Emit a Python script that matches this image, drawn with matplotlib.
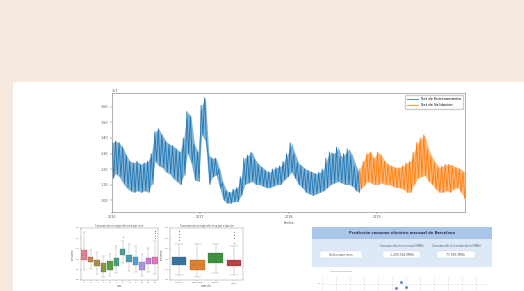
import numpy as np
import pandas as pd
import matplotlib
matplotlib.use("Agg")
import matplotlib.pyplot as plt
from matplotlib.patches import Rectangle
import seaborn as sns

# --- main series (upper / lower envelope of the daily values) ---
train_hi = [1.37, 1.38, 1.37, 1.34, 1.29, 1.25, 1.24, 1.25, 1.23, 1.24,
            1.25, 1.30, 1.44, 1.46, 1.42, 1.38, 1.36, 1.35, 1.33, 1.31,
            1.40, 1.57, 1.54, 1.36, 1.31, 1.61, 1.66, 1.29, 1.27, 1.27,
            1.20, 1.11, 1.06, 1.05, 1.07, 1.08, 1.15, 1.27, 1.29, 1.31,
            1.26, 1.23, 1.21, 1.19, 1.18, 1.20, 1.21, 1.22, 1.25, 1.30,
            1.37, 1.30, 1.24, 1.22, 1.20, 1.19, 1.18, 1.17, 1.18, 1.20,
            1.27, 1.31, 1.30, 1.34, 1.28, 1.30, 1.33, 1.29, 1.22, 1.18]
train_lo = [1.14, 1.17, 1.15, 1.11, 1.08, 1.06, 1.05, 1.06, 1.05, 1.06,
            1.05, 1.10, 1.25, 1.22, 1.21, 1.18, 1.17, 1.14, 1.12, 1.10,
            1.16, 1.30, 1.24, 1.13, 1.12, 1.42, 1.38, 1.10, 1.15, 1.16,
            1.08, 1.00, 0.98, 0.98, 0.99, 0.99, 1.03, 1.10, 1.11, 1.12,
            1.10, 1.10, 1.09, 1.08, 1.08, 1.09, 1.10, 1.10, 1.13, 1.15,
            1.18, 1.14, 1.10, 1.08, 1.05, 1.04, 1.03, 1.04, 1.05, 1.06,
            1.08, 1.10, 1.11, 1.12, 1.11, 1.10, 1.10, 1.09, 1.06, 1.05]
val_hi = [1.20, 1.25, 1.30, 1.31, 1.27, 1.31, 1.29, 1.25, 1.23, 1.22,
          1.21, 1.21, 1.22, 1.24, 1.25, 1.31, 1.37, 1.40, 1.42, 1.33,
          1.28, 1.24, 1.21, 1.22, 1.23, 1.23, 1.22, 1.21, 1.20, 1.18]
val_lo = [1.07, 1.09, 1.12, 1.11, 1.10, 1.10, 1.11, 1.10, 1.10, 1.09,
          1.08, 1.08, 1.07, 1.05, 1.05, 1.10, 1.14, 1.15, 1.16, 1.12,
          1.10, 1.07, 1.05, 1.05, 1.06, 1.05, 1.07, 1.08, 1.05, 1.01]
year_ticks = ["2016", "2017", "2018", "2019"]

# --- box plot by month ---
month_q1 = [1.19, 1.15, 1.06, 0.96, 1.00, 1.06, 1.28, 1.15, 1.09, 0.99, 1.10, 1.10]
month_med = [1.28, 1.20, 1.12, 1.03, 1.08, 1.12, 1.35, 1.22, 1.18, 1.06, 1.18, 1.17]
month_q3 = [1.38, 1.24, 1.19, 1.12, 1.17, 1.22, 1.40, 1.28, 1.24, 1.15, 1.22, 1.24]
month_lo = [0.99, 1.02, 0.92, 0.86, 0.88, 0.93, 1.12, 0.98, 0.95, 0.88, 0.96, 0.92]
month_hi = [1.72, 1.38, 1.33, 1.26, 1.30, 1.45, 1.55, 1.50, 1.45, 1.30, 1.42, 1.55]
month_fliers = [[], [], [], [], [], [], [1.62], [], [], [], [], [1.60, 1.65, 1.70, 1.74]]

# --- box plot by season ---
season_q1 = [1.09, 0.99, 1.12, 1.06]
season_med = [1.17, 1.08, 1.22, 1.12]
season_q3 = [1.25, 1.19, 1.31, 1.19]
season_lo = [0.90, 0.86, 0.93, 0.90]
season_hi = [1.50, 1.50, 1.50, 1.45]
season_fliers = [[1.56, 1.62, 1.68, 1.74], [], [], [1.52, 1.60, 1.66, 1.72]]
season_colors = ["#3274a1", "#e1812c", "#3a923a", "#c03d3e"]

W, H = 524, 291
fig = plt.figure(figsize=(W / 100, H / 100), dpi=100, facecolor="#f6e9e0")


def fx(px):
    return px / W


def fy(py):
    return 1 - py / H


# white card behind everything
fig.patches.append(Rectangle((fx(13), 0), 1 - fx(13), fy(82), transform=fig.transFigure,
                             facecolor="white", edgecolor="none", zorder=-5))

# main time series
ax = fig.add_axes([fx(112), fy(212), fx(465 - 112), (212 - 93) / H])
d_train = pd.date_range("2016-01-01", "2018-10-22", periods=len(train_hi))
d_val = pd.date_range("2018-10-22", "2019-12-31", periods=len(val_hi))
ax.fill_between(d_train, train_lo, train_hi, color="#1f77b4", alpha=0.55, lw=0)
ax.fill_between(d_val, val_lo, val_hi, color="#ff7f0e", alpha=0.55, lw=0)
t_train = pd.date_range("2016-01-01", "2018-10-22", periods=2 * len(train_hi))
t_val = pd.date_range("2018-10-22", "2019-12-31", periods=2 * len(val_hi))
y_train = np.column_stack([train_hi, train_lo]).ravel()
y_val = np.column_stack([val_hi, val_lo]).ravel()
ax.plot(t_train, y_train, color="#1f77b4", lw=0.6, label="Set de Entrenamiento")
ax.plot(t_val, y_val, color="#ff7f0e", lw=0.6, label="Set de Validación")
ax.set_xlim(pd.Timestamp("2016-01-01"), pd.Timestamp("2020-01-01"))
ax.set_ylim(0.923, 1.69)
ax.set_xticks([pd.Timestamp(y + "-01-01") for y in year_ticks])
ax.set_xticklabels(year_ticks)
ax.set_yticks([1.0, 1.1, 1.2, 1.3, 1.4, 1.5, 1.6])
ax.set_yticklabels(["%.2f" % v for v in [1.0, 1.1, 1.2, 1.3, 1.4, 1.5, 1.6]])
ax.tick_params(labelsize=2.4, length=1.5, width=0.3, pad=1, colors="#555555")
for s in ax.spines.values():
    s.set_linewidth(0.4)
    s.set_color("#777777")
ax.set_xlabel("Fecha", fontsize=2.6, labelpad=1, color="#555555")
ax.text(0, 1.01, "1e7", transform=ax.transAxes, fontsize=2.4, color="#555555")
ax.legend(loc="upper right", fontsize=2.6, handlelength=3, frameon=True,
          borderpad=0.6, framealpha=1, edgecolor="#cccccc")


def stats(q1, med, q3, lo, hi, fl):
    return [dict(q1=a, med=b, q3=c, whislo=d, whishi=e, fliers=f)
            for a, b, c, d, e, f in zip(q1, med, q3, lo, hi, fl)]


def style_box(bp, colors):
    for patch, c in zip(bp["boxes"], colors):
        patch.set_facecolor(c)
        patch.set_edgecolor("#555555")
        patch.set_linewidth(0.2)
    for k in ("whiskers", "caps", "medians"):
        for ln in bp[k]:
            ln.set_color("#777777")
            ln.set_linewidth(0.2)


def style_small(axb, title, xl, yl):
    axb.set_ylim(0.8, 1.8)
    axb.set_title(title, fontsize=1.8, pad=1, color="#555555")
    axb.tick_params(labelsize=1.6, length=1, width=0.3, pad=0.5, colors="#666666")
    axb.set_xlabel(xl, fontsize=1.8, labelpad=0.5, color="#555555")
    axb.set_ylabel(yl, fontsize=1.8, labelpad=0.5, color="#555555")
    for s in axb.spines.values():
        s.set_linewidth(0.3)
        s.set_color("#888888")


flier_style = dict(marker="d", markersize=0.8, markerfacecolor="#555555", markeredgewidth=0)

# month box plot
ax1 = fig.add_axes([fx(81), fy(280), fx(158 - 81), 52 / H])
bp = ax1.bxp(stats(month_q1, month_med, month_q3, month_lo, month_hi, month_fliers),
             patch_artist=True, widths=0.85, flierprops=flier_style)
style_box(bp, sns.color_palette("husl", 12, desat=0.8))
ax1.set_xticks(range(1, 13))
ax1.set_xticklabels([str(m) for m in range(1, 13)])
style_small(ax1, "Consumo de energía eléctrica por mes", "mes", "consumo")

# season box plot
ax2 = fig.add_axes([fx(170), fy(280), fx(243 - 170), 52 / H])
bp2 = ax2.bxp(stats(season_q1, season_med, season_q3, season_lo, season_hi, season_fliers),
              patch_artist=True, widths=0.8, flierprops=flier_style)
style_box(bp2, season_colors)
ax2.set_xticks(range(1, 5))
ax2.set_xticklabels(["Invierno", "Primavera", "Verano", "Otoño"])
style_small(ax2, "Consumo de energía eléctrica por estación", "estación", "consumo")

# dashboard card
fig.patches.append(Rectangle((fx(312), fy(267)), fx(492 - 312), (267 - 239) / H,
                             transform=fig.transFigure, facecolor="#dde9f6",
                             edgecolor="none", zorder=1))
fig.patches.append(Rectangle((fx(312), fy(239)), fx(492 - 312), (239 - 227) / H,
                             transform=fig.transFigure, facecolor="#a9c5e8",
                             edgecolor="none", zorder=1))
fig.text(fx(402), fy(233), "Predicción consumo eléctrico mensual de Barcelona",
         fontsize=2.6, ha="center", va="center", color="#333355", weight="bold")
for x0, x1, lab, val in [(320, 362, "", "Seleccione mes"),
                         (383, 420, "Consumo eléctrico mensual (MWh)", "1.299.924 MWh"),
                         (437, 475, "Consumo eléctrico medio diario (MWh)", "77.895 MWh")]:
    fig.patches.append(Rectangle((fx(x0), fy(258)), fx(x1 - x0), 7 / H,
                                 transform=fig.transFigure, facecolor="white",
                                 edgecolor="#c8d6e8", linewidth=0.3, zorder=2))
    fig.text(fx((x0 + x1) / 2), fy(254.5), val, fontsize=2.2, ha="center",
             va="center", color="#555555")
    if lab:
        fig.text(fx((x0 + x1) / 2), fy(246), lab, fontsize=1.8, ha="center",
                 va="center", color="#555555")

# small chart below the dashboard
ax3 = fig.add_axes([fx(322), fy(296), fx(490 - 322), (296 - 276) / H])
ax3.plot([pd.Timestamp("2019-05-01"), pd.Timestamp("2019-06-01"),
          pd.Timestamp("2019-07-01")], [1.10, 1.25, 1.12], "o",
         color="#6a8fd0", markersize=1.2)
ax3.set_xlim(pd.Timestamp("2018-01-01"), pd.Timestamp("2020-12-31"))
ax3.set_ylim(0.9, 1.4)
ax3.grid(True, color="#e6e6e6", linewidth=0.4)
ax3.set_xticks(pd.date_range("2018-01-01", "2020-12-31", freq="3MS"))
ax3.set_xticklabels([])
ax3.set_yticks([1.0, 1.2])
ax3.tick_params(labelsize=1.6, length=0, pad=0.5, colors="#777777")
for s in ax3.spines.values():
    s.set_visible(False)
fig.text(fx(330), fy(272), "Predicción mensual", fontsize=1.6, color="#777777")

fig.savefig("out.png", dpi=100, facecolor=fig.get_facecolor())
